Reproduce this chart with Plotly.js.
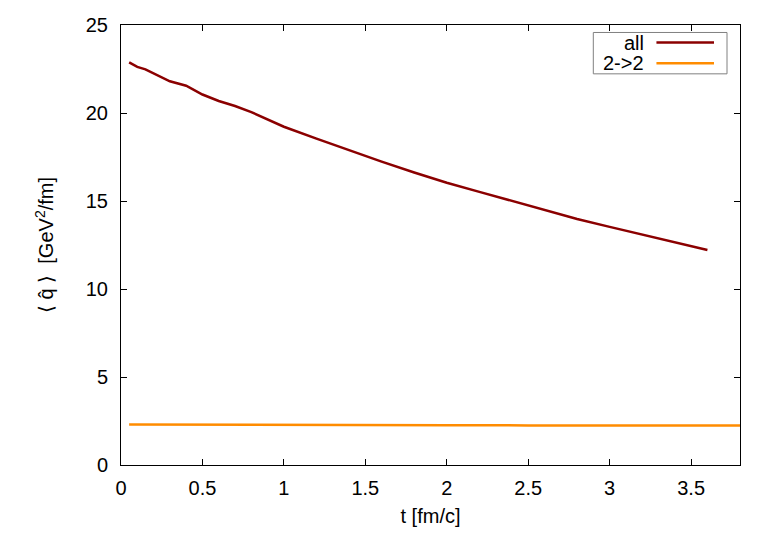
<!DOCTYPE html>
<html>
<head>
<meta charset="utf-8">
<script src="https://cdn.plot.ly/plotly-3.0.1.min.js"></script>
<style>body{margin:0;padding:0;background:#fff;}#plot{width:763px;height:534px;}</style>
</head>
<body>
<div id="plot"></div>
<script>
const seriesNames = ["all", "2->2"];
const tAll = [0.05, 0.1, 0.15, 0.2, 0.3, 0.4, 0.5, 0.6, 0.7, 0.8, 0.9, 1.0, 1.2, 1.4, 1.6, 1.8, 2.0, 2.2, 2.4, 2.6, 2.8, 3.0, 3.2, 3.4, 3.6];
const qAll = [22.88, 22.62, 22.48, 22.25, 21.80, 21.55, 21.05, 20.68, 20.40, 20.05, 19.65, 19.22, 18.54, 17.87, 17.24, 16.62, 16.04, 15.52, 15.00, 14.48, 13.98, 13.53, 13.08, 12.65, 12.22];
const t22 = [0.05, 0.5, 1.0, 1.5, 2.0, 2.5, 3.0, 3.5, 3.8];
const q22 = [2.30, 2.30, 2.29, 2.27, 2.26, 2.25, 2.25, 2.25, 2.25];
const colors = ["#8b0000", "#ff8c00"];

const font = {family: "Liberation Sans, Arial, sans-serif", size: 20, color: "#000"};

const traces = [
  {x: tAll, y: qAll, name: seriesNames[0], mode: "lines", line: {color: colors[0], width: 2.5}},
  {x: t22, y: q22, name: seriesNames[1], mode: "lines", line: {color: colors[1], width: 2.5}}
];

const axisCommon = {
  showline: true, linecolor: "#000", linewidth: 1, mirror: "ticks",
  ticks: "inside", ticklen: 6, tickcolor: "#000", tickwidth: 1,
  showgrid: false, zeroline: false, tickfont: font
};

const legY = [0.960, 0.913];
const shapes = [
  {type: "rect", xref: "paper", yref: "paper", x0: 0.763, x1: 0.979, y0: 0.889, y1: 0.983,
   line: {color: "#808080", width: 1}, fillcolor: "rgba(0,0,0,0)"}
];
const annotations = [];
seriesNames.forEach((n, i) => {
  shapes.push({type: "line", xref: "paper", yref: "paper", x0: 0.865, x1: 0.958, y0: legY[i], y1: legY[i],
    line: {color: colors[i], width: 2.5}});
  annotations.push({xref: "paper", yref: "paper", x: 0.848, y: legY[i], xanchor: "right", yanchor: "middle",
    text: n, showarrow: false, font: font});
});

const layout = {
  width: 763, height: 534,
  margin: {l: 121, r: 23, t: 25, b: 69},
  paper_bgcolor: "#fff", plot_bgcolor: "#fff",
  font: font,
  showlegend: false,
  xaxis: Object.assign({}, axisCommon, {
    range: [0, 3.8], dtick: 0.5, tick0: 0, ticklabelstandoff: 5,
    title: {text: "t [fm/c]", font: font, standoff: 10}
  }),
  yaxis: Object.assign({}, axisCommon, {
    range: [0, 25], dtick: 5, tick0: 0, ticklabelstandoff: 8,
    title: {text: "\u27E8 q\u0302 \u27E9  [GeV<sup>2</sup>/fm]", font: font, standoff: 26}
  }),
  shapes: shapes,
  annotations: annotations
};

Plotly.newPlot("plot", traces, layout, {staticPlot: true, displayModeBar: false});
</script>
</body>
</html>
